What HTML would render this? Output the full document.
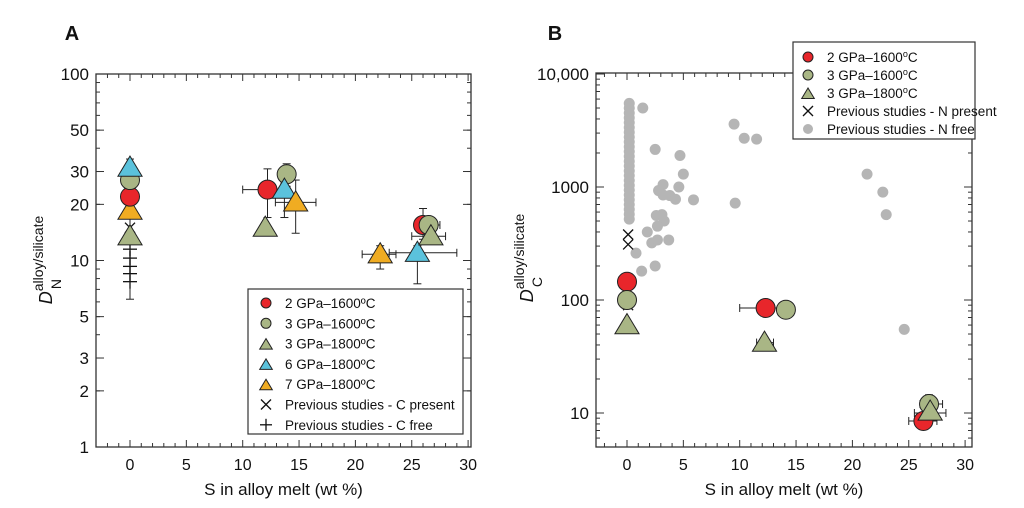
<!DOCTYPE html>
<html><head><meta charset="utf-8"><style>
html,body{margin:0;padding:0;background:#fff;}
svg text{font-family:"Liberation Sans",Arial,sans-serif;fill:#111;}
</style></head><body>
<svg id="s" width="1024" height="503" xmlns="http://www.w3.org/2000/svg"></svg>
<script>
const s=document.getElementById('s');let h='';
const RED='#e8262b',GRN='#a9b685',CYA='#5bc2dc',ORA='#f0ac22',GRY='#b5b5b5';
function L10(v){return Math.log(v)/Math.LN10;}
const AX=s=>130+s*11.27, AY=d=>447-186.5*L10(d);
const BX=s=>627+s*11.27, BY=d=>413-113*(L10(d)-1);
function line(x1,y1,x2,y2,c='#222',w=1){h+=`<line x1="${x1}" y1="${y1}" x2="${x2}" y2="${y2}" stroke="${c}" stroke-width="${w}"/>`;}
function txt(x,y,t,sz,anc='middle',extra=''){h+=`<text x="${x}" y="${y}" font-size="${sz}" text-anchor="${anc}" ${extra}>${t}</text>`;}
function axes(x0,y0,x1,y1,X,Y,ymaj,ymin){
  h+=`<rect x="${x0}" y="${y0}" width="${x1-x0}" height="${y1-y0}" fill="none" stroke="#333" stroke-width="1.3"/>`;
  for(let v=-2;v<=30;v++){const x=X(v);const L=v%5==0?7:4;line(x,y1,x,y1-L,'#333');line(x,y0,x,y0+L,'#333');}
  for(let v=0;v<=30;v+=5)txt(X(v),y1+23,v,16);
  ymaj.forEach(([v,l])=>{const y=Y(v);line(x0,y,x0+8,y,'#333');line(x1,y,x1-8,y,'#333');txt(x0-7,y+6,l,17,'end');});
  ymin.forEach(v=>{const y=Y(v);line(x0,y,x0+4,y,'#333');line(x1,y,x1-4,y,'#333');});
  txt((x0+x1)/2,y1+48,'S in alloy melt (wt %)',17);
}
function circ(x,y,c,r=9.5){h+=`<circle cx="${x}" cy="${y}" r="${r}" fill="${c}" stroke="#222" stroke-width="1"/>`;}
function tri(x,y,c,r=11.5){h+=`<polygon points="${x},${y-r} ${x-r*1.05},${y+r*0.75} ${x+r*1.05},${y+r*0.75}" fill="${c}" stroke="#222" stroke-width="1"/>`;}
function xm(x,y,r=5){line(x-r,y-r,x+r,y+r,'#111',1.3);line(x-r,y+r,x+r,y-r,'#111',1.3);}
function pm(x,y,r=7){line(x-r,y,x+r,y,'#111',1.3);line(x,y-r,x,y+r,'#111',1.3);}
function ex(xa,xb,y){line(xa,y,xb,y);line(xa,y-4,xa,y+4);line(xb,y-4,xb,y+4);}
function ey(x,ya,yb){line(x,ya,x,yb);line(x-4,ya,x+4,ya);line(x-4,yb,x+4,yb);}
let minA=[];for(let d=1;d<=2;d++){[2,3,4,5,6,7,8,9].forEach(k=>minA.push(k*Math.pow(10,d-1)));}
axes(96,74,471,447,AX,AY,[[1,1],[2,2],[3,3],[5,5],[10,10],[20,20],[30,30],[50,50],[100,100]],minA);
txt(72,40,'A',20,'middle','font-weight="bold"');
h+=`<text transform="translate(52,260) rotate(-90)" font-size="18" text-anchor="middle"><tspan font-style="italic">D</tspan><tspan font-size="14" dy="-9">alloy/silicate</tspan></text>`;
h+=`<text transform="translate(61,284) rotate(-90)" font-size="14" text-anchor="middle">N</text>`;
ey(AX(0),AY(6.2),AY(35));
[11.5,10.3,9.3,8.5,7.7].forEach(v=>pm(AX(0),AY(v)));
xm(AX(0),AY(15));
tri(AX(0),AY(13.5),GRN);tri(AX(0),AY(18.5),ORA);circ(AX(0),AY(22),RED);circ(AX(0),AY(27),GRN);tri(AX(0),AY(31.5),CYA);
ex(AX(10),AX(14),AY(24));ey(AX(12.2),AY(17),AY(31));
ey(AX(13.9),AY(25),AY(33));ey(AX(13.7),AY(17),AY(26));
ex(AX(12.9),AX(16.5),AY(20.5));ey(AX(14.7),AY(14),AY(27));
tri(AX(12),AY(15),GRN);circ(AX(12.2),AY(24),RED);circ(AX(13.9),AY(29),GRN);tri(AX(13.7),AY(24),CYA);tri(AX(14.7),AY(20.5),ORA);
ey(AX(26),AY(13),AY(19));ex(AX(25.5),AX(27.5),AY(15.5));ex(AX(25),AX(28),AY(13.5));
ex(AX(23),AX(29),AY(11));ey(AX(25.5),AY(7.5),AY(12));ex(AX(20.6),AX(23.6),AY(10.8));ey(AX(22.2),AY(9),AY(12));
tri(AX(22.2),AY(10.8),ORA);tri(AX(25.5),AY(11),CYA);circ(AX(26),AY(15.5),RED);circ(AX(26.5),AY(15.5),GRN);tri(AX(26.7),AY(13.5),GRN);
h+=`<rect x="248" y="289" width="215" height="145" fill="#fff" stroke="#333" stroke-width="1.2"/>`;
const la=[['c',RED,'2 GPa–1600ºC'],['c',GRN,'3 GPa–1600ºC'],['t',GRN,'3 GPa–1800ºC'],['t',CYA,'6 GPa–1800ºC'],['t',ORA,'7 GPa–1800ºC'],['x','','Previous studies - C present'],['p','','Previous studies - C free']];
la.forEach((e,i)=>{const y=303+i*20.3,x=266;
 if(e[0]=='c')circ(x,y,e[1],5);else if(e[0]=='t')tri(x,y+1,e[1],6);else if(e[0]=='x')xm(x,y,5);else pm(x,y,6);
 txt(285,y+5,e[2],13.5,'start');});
let minB=[];for(let d=0;d<3;d++){[2,3,4,5,6,7,8,9].forEach(k=>minB.push(k*Math.pow(10,d+1)));}minB.push(6,7,8,9);
axes(596,73,972,447,BX,BY,[[10,10],[100,100],[1000,1000],[10000,'10,000']],minB);
txt(555,40,'B',20,'middle','font-weight="bold"');
h+=`<text transform="translate(533,258) rotate(-90)" font-size="18" text-anchor="middle"><tspan font-style="italic">D</tspan><tspan font-size="14" dy="-9">alloy/silicate</tspan></text>`;
h+=`<text transform="translate(542,282) rotate(-90)" font-size="14" text-anchor="middle">C</text>`;
for(let i=0;i<=24;i++){const v=Math.pow(10,L10(520)+i*(L10(5500)-L10(520))/24);h+=`<circle cx="${BX(0.2)}" cy="${BY(v)}" r="5.5" fill="${GRY}"/>`;}
[[1.4,5000],[2.5,2150],[4.7,1900],[5,1300],[3.2,1050],[4.6,1000],[2.8,930],[3.2,850],[3.8,840],[4.3,780],[5.9,770],[2.6,560],[3.1,570],[3.3,500],[2.7,450],[1.8,400],[2.2,320],[2.7,340],[3.7,340],[0.8,260],[1.3,180],[2.5,200],[9.5,3600],[10.4,2700],[11.5,2650],[9.6,720],[21.3,1300],[22.7,900],[23,570],[24.6,55]].forEach(p=>h+=`<circle cx="${BX(p[0])}" cy="${BY(p[1])}" r="5.5" fill="${GRY}"/>`);
xm(BX(0.1),BY(380));xm(BX(0.1),BY(310));xm(BX(0.1),BY(90));
circ(BX(0),BY(145),RED);circ(BX(0),BY(100),GRN);tri(BX(0),BY(60),GRN);
ex(BX(10),BX(14.5),BY(85));circ(BX(12.3),BY(85),RED);circ(BX(14.1),BY(82),GRN);ex(BX(11.5),BX(13),BY(42));tri(BX(12.2),BY(42),GRN);
ey(BX(26.3),BY(7.3),BY(9.5));ex(BX(25),BX(27.5),BY(8.5));ey(BX(26.8),BY(10),BY(14.5));ex(BX(26),BX(28),BY(12));ex(BX(25.5),BX(28.3),BY(10));
circ(BX(26.3),BY(8.5),RED);circ(BX(26.8),BY(12),GRN);tri(BX(26.9),BY(10.3),GRN);
h+=`<rect x="793" y="42" width="182" height="97" fill="#fff" stroke="#333" stroke-width="1.2"/>`;
const lb=[['c',RED,'2 GPa–1600<tspan dy="-5" font-size="9">o</tspan><tspan dy="5">C</tspan>'],['c',GRN,'3 GPa–1600<tspan dy="-5" font-size="9">o</tspan><tspan dy="5">C</tspan>'],['t',GRN,'3 GPa–1800<tspan dy="-5" font-size="9">o</tspan><tspan dy="5">C</tspan>'],['x','','Previous studies - N present'],['g','','Previous studies - N free']];
lb.forEach((e,i)=>{const y=57+i*18,x=808;
 if(e[0]=='c')circ(x,y,e[1],5);else if(e[0]=='t')tri(x,y+1,e[1],6);else if(e[0]=='x')xm(x,y,5);else h+=`<circle cx="${x}" cy="${y}" r="5" fill="${GRY}"/>`;
 txt(827,y+5,e[2],13.5,'start');});
s.innerHTML=h;
</script>
</body></html>
